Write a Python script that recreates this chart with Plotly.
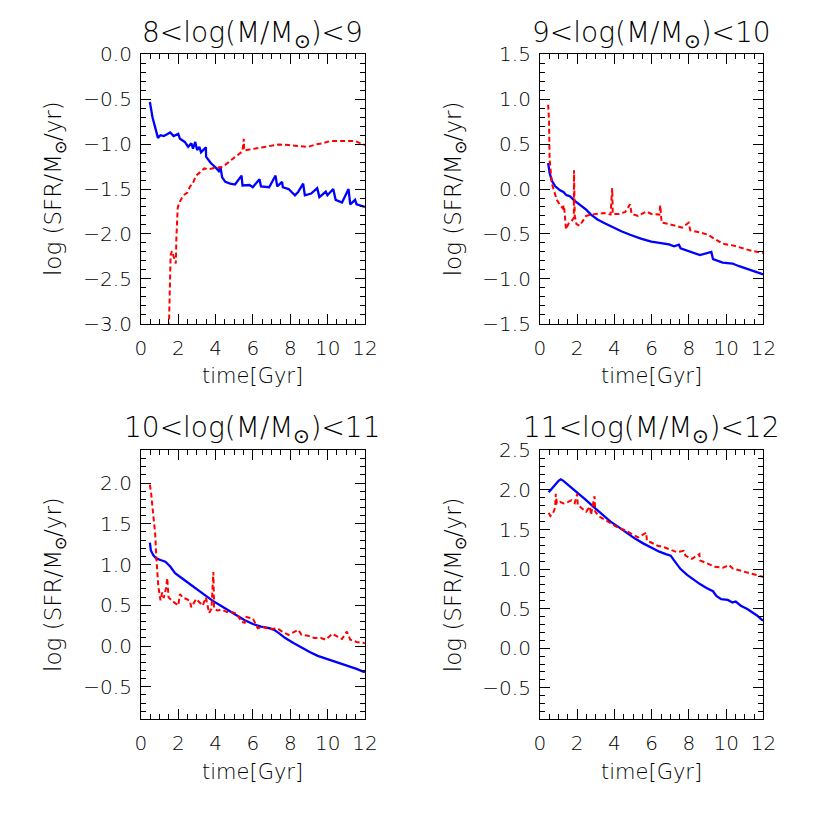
import plotly.graph_objects as go

# ---- panel 1 : 8 < log M < 9 ----
t_blue_1 = [0.48, 0.62, 0.76, 0.91, 1.05, 1.22, 1.40, 1.57, 1.75, 2.00, 2.09, 2.35, 2.53, 2.70, 2.79, 2.91,
            3.01, 3.13, 3.22, 3.48, 3.49, 3.74, 4.00, 4.17, 4.26, 4.35, 4.52, 4.78, 5.04, 5.39, 5.44, 5.82,
            5.99, 6.35, 6.43, 6.87, 7.21, 7.30, 7.56, 7.60, 7.91, 8.25, 8.43, 8.69, 8.78, 9.12, 9.44, 9.56,
            9.90, 9.99, 10.30, 10.43, 10.77, 11.12, 11.21, 11.47, 11.55, 11.90, 12.0]
sfr_blue_1 = [-0.53, -0.70, -0.81, -0.93, -0.90, -0.91, -0.89, -0.87, -0.91, -0.885, -0.94, -0.975, -1.03, -0.99, -1.05, -0.975,
              -1.065, -1.03, -1.09, -1.036, -1.14, -1.21, -1.26, -1.30, -1.25, -1.37, -1.42, -1.44, -1.45, -1.35, -1.46, -1.455,
              -1.48, -1.39, -1.47, -1.48, -1.35, -1.47, -1.42, -1.48, -1.50, -1.57, -1.53, -1.44, -1.57, -1.55, -1.49, -1.59,
              -1.53, -1.57, -1.50, -1.62, -1.65, -1.50, -1.67, -1.62, -1.67, -1.695, -1.70]
t_red_1 = [1.46, 1.52, 1.54, 1.59, 1.66, 1.75, 1.87, 1.90, 1.97, 2.04, 2.27, 2.49, 2.61, 2.79, 2.96, 3.13,
           3.39, 3.65, 4.00, 4.26, 4.52, 4.87, 5.22, 5.44, 5.51, 5.53, 5.82, 6.35, 6.87, 7.39, 7.91, 8.43,
           8.95, 9.38, 9.73, 10.16, 10.69, 11.20, 11.47, 11.90, 12.0]
sfr_red_1 = [-3.40, -2.72, -2.42, -2.24, -2.19, -2.25, -2.33, -2.04, -1.71, -1.66, -1.57, -1.54, -1.48, -1.43, -1.35, -1.32,
             -1.27, -1.28, -1.26, -1.26, -1.23, -1.17, -1.12, -1.08, -0.94, -1.07, -1.06, -1.04, -1.02, -1.003, -1.01, -1.02,
             -1.03, -1.003, -0.99, -0.964, -0.964, -0.957, -0.964, -1.003, -1.01]

# ---- panel 2 : 9 < log M < 10 ----
t_blue_2 = [0.44, 0.52, 0.64, 0.82, 1.08, 1.26, 1.43, 1.61, 1.82, 2.04, 2.30, 2.48, 2.74, 3.09, 3.53, 3.96,
            4.40, 4.84, 5.46, 5.98, 6.50, 6.93, 7.20, 7.46, 7.55, 8.07, 8.59, 9.20, 9.29, 9.81, 10.34, 10.69,
            11.21, 11.65, 11.91, 12.0]
sfr_blue_2 = [0.29, 0.18, 0.093, 0.03, -0.015, -0.033, -0.069, -0.08, -0.123, -0.159, -0.195, -0.23, -0.285, -0.34, -0.386, -0.43,
              -0.473, -0.51, -0.556, -0.585, -0.60, -0.617, -0.638, -0.62, -0.66, -0.70, -0.736, -0.70, -0.78, -0.82, -0.83, -0.86,
              -0.90, -0.927, -0.945, -0.95]
t_red_2 = [0.44, 0.49, 0.52, 0.59, 0.64, 0.77, 0.91, 1.08, 1.22, 1.29, 1.40, 1.52, 1.69, 1.82, 1.83, 1.87,
           1.96, 2.13, 2.30, 2.48, 2.74, 3.09, 3.44, 3.79, 3.88, 3.91, 4.23, 4.58, 4.84, 4.92, 5.27, 5.71,
           5.98, 6.41, 6.46, 6.53, 6.85, 7.28, 7.63, 7.98, 8.07, 8.59, 9.03, 9.38, 9.81, 10.34, 10.86, 11.39,
           11.91, 12.0]
sfr_red_2 = [0.94, 0.76, 0.33, 0.15, 0.06, -0.03, -0.12, -0.18, -0.213, -0.18, -0.45, -0.39, -0.36, -0.32, 0.21, -0.30,
             -0.39, -0.41, -0.357, -0.30, -0.285, -0.275, -0.267, -0.285, 0.01, -0.278, -0.278, -0.256, -0.17, -0.278, -0.30, -0.25,
             -0.278, -0.285, -0.18, -0.375, -0.386, -0.41, -0.43, -0.375, -0.46, -0.484, -0.51, -0.556, -0.61, -0.628, -0.66, -0.69,
             -0.71, -0.715]

# ---- panel 3 : 10 < log M < 11 ----
t_blue_3 = [0.48, 0.53, 0.66, 0.82, 1.05, 1.31, 1.57, 1.83, 2.18, 2.53, 2.96, 3.39, 3.83, 4.26, 4.70, 5.13,
            5.56, 6.00, 6.43, 6.87, 7.13, 7.39, 7.73, 8.17, 8.60, 9.04, 9.47, 9.90, 10.34, 10.77, 11.21, 11.55,
            11.90, 12.0]
sfr_blue_3 = [1.27, 1.175, 1.115, 1.075, 1.055, 1.035, 0.975, 0.895, 0.835, 0.776, 0.71, 0.63, 0.557, 0.497, 0.437, 0.377,
              0.317, 0.27, 0.238, 0.22, 0.198, 0.158, 0.098, 0.038, -0.02, -0.073, -0.12, -0.153, -0.18, -0.213, -0.253, -0.28,
              -0.313, -0.32]
t_red_3 = [0.48, 0.55, 0.65, 0.76, 0.82, 0.88, 0.93, 1.05, 1.14, 1.22, 1.35, 1.41, 1.48, 1.66, 1.83, 2.00,
           2.09, 2.27, 2.44, 2.61, 2.70, 2.84, 2.96, 3.13, 3.31, 3.48, 3.57, 3.65, 3.78, 3.88, 3.92, 4.09,
           4.35, 4.61, 4.87, 5.13, 5.39, 5.56, 5.65, 6.00, 6.26, 6.52, 6.87, 7.30, 7.56, 7.91, 8.43, 8.60,
           8.95, 9.30, 9.64, 9.90, 10.25, 10.51, 10.77, 11.03, 11.21, 11.55, 11.90, 12.0]
sfr_red_3 = [1.98, 1.87, 1.63, 1.39, 1.115, 0.835, 0.735, 0.56, 0.656, 0.59, 0.716, 0.835, 0.597, 0.557, 0.525, 0.497,
             0.636, 0.59, 0.577, 0.557, 0.477, 0.537, 0.577, 0.537, 0.497, 0.597, 0.477, 0.405, 0.457, 0.907, 0.457, 0.437,
             0.445, 0.417, 0.417, 0.397, 0.297, 0.285, 0.357, 0.337, 0.218, 0.238, 0.206, 0.218, 0.178, 0.138, 0.198, 0.138,
             0.126, 0.098, 0.098, 0.078, 0.15, 0.118, 0.086, 0.178, 0.078, 0.05, 0.038, 0.035]

# ---- panel 4 : 11 < log M < 12 ----
t_blue_4 = [0.47, 0.64, 0.82, 1.00, 1.12, 1.26, 1.52, 1.78, 2.04, 2.48, 2.91, 3.35, 3.79, 4.23, 4.66, 5.10,
            5.54, 5.97, 6.41, 6.76, 7.02, 7.20, 7.37, 7.55, 7.90, 8.24, 8.59, 8.94, 9.29, 9.47, 9.73, 10.08,
            10.34, 10.51, 10.78, 11.13, 11.39, 11.65, 11.91, 12.0]
sfr_blue_4 = [1.97, 2.01, 2.065, 2.115, 2.135, 2.115, 2.065, 2.01, 1.96, 1.87, 1.78, 1.685, 1.60, 1.53, 1.46, 1.385,
              1.325, 1.275, 1.22, 1.19, 1.17, 1.11, 1.05, 1.0, 0.926, 0.865, 0.81, 0.76, 0.72, 0.66, 0.62, 0.61,
              0.578, 0.59, 0.537, 0.496, 0.455, 0.414, 0.36, 0.35]
t_red_4 = [0.47, 0.56, 0.70, 0.82, 0.85, 0.91, 1.08, 1.26, 1.52, 1.69, 1.87, 2.00, 2.03, 2.22, 2.48, 2.69,
           2.74, 2.93, 2.97, 3.18, 3.53, 3.88, 4.23, 4.57, 4.92, 5.27, 5.71, 5.74, 5.97, 6.32, 6.67, 7.02,
           7.37, 7.72, 7.81, 8.16, 8.56, 8.59, 8.94, 9.38, 9.81, 10.16, 10.34, 10.86, 11.39, 11.91, 12.0]
sfr_red_4 = [1.71, 1.67, 1.705, 1.78, 1.95, 1.83, 1.85, 1.83, 1.85, 1.87, 1.835, 1.95, 1.81, 1.77, 1.725, 1.79,
             1.685, 1.92, 1.725, 1.664, 1.615, 1.56, 1.52, 1.49, 1.45, 1.40, 1.46, 1.357, 1.336, 1.295, 1.275, 1.246,
             1.213, 1.23, 1.17, 1.13, 1.19, 1.11, 1.07, 1.03, 1.016, 1.05, 1.008, 0.975, 0.947, 0.906, 0.90]

titles = ["8<log(M/M<sub>⊙</sub>)<9", "9<log(M/M<sub>⊙</sub>)<10",
          "10<log(M/M<sub>⊙</sub>)<11", "11<log(M/M<sub>⊙</sub>)<12"]
y_ranges = [[-3.0, 0.0], [-1.5, 1.5], [-0.9, 2.4], [-0.9, 2.5]]

panels = [(t_blue_1, sfr_blue_1, t_red_1, sfr_red_1),
          (t_blue_2, sfr_blue_2, t_red_2, sfr_red_2),
          (t_blue_3, sfr_blue_3, t_red_3, sfr_red_3),
          (t_blue_4, sfr_blue_4, t_red_4, sfr_red_4)]

# the page body keeps its default 8px margin, so an 801px figure fills the 817px window
OFF = 8
W = 801


def px_x(p):
    return (p - OFF) / W


def px_y(p):
    return 1 - (p - OFF) / W


# panel order: top-left, top-right, bottom-left, bottom-right
x_doms = [[px_x(138), px_x(367.5)], [px_x(546.7), px_x(775.7)]] * 2
y_doms = [[px_y(321), px_y(43.5)]] * 2 + [[px_y(729), px_y(451.7)]] * 2
title_y = [23, 23, 430, 430]
xtitle_y = [375, 375, 783, 783]
ytitle_x = [50, 460, 50, 460]

FONT = "DejaVu Sans"
fs = 20

fig = go.Figure()
for i, (tb, sb, tr, sr) in enumerate(panels):
    n = "" if i == 0 else str(i + 1)
    fig.add_trace(go.Scatter(x=tb, y=sb, mode="lines", line=dict(color="#0000ff", width=2.3),
                             xaxis="x" + n, yaxis="y" + n, showlegend=False))
    fig.add_trace(go.Scatter(x=tr, y=sr, mode="lines", line=dict(color="#ff0000", width=2, dash="5px,3px"),
                             xaxis="x" + n, yaxis="y" + n, showlegend=False))

common = dict(showline=True, linecolor="black", linewidth=1, mirror="ticks", ticks="inside",
              ticklen=10, tickwidth=1, tickcolor="black", showgrid=False, zeroline=False,
              tickfont=dict(family=FONT, size=fs, color="black", weight=200))

layout = dict(width=W, height=W, margin=dict(l=0, r=0, t=0, b=0),
              paper_bgcolor="white", plot_bgcolor="white", showlegend=False)
annotations = []
for i in range(4):
    n = "" if i == 0 else str(i + 1)
    layout["xaxis" + n] = dict(common, domain=x_doms[i], range=[0, 12], dtick=2, tick0=0,
                               anchor="y" + n, ticklabelstandoff=6,
                               minor=dict(ticks="inside", ticklen=5, dtick=0.5, tickcolor="black"))
    layout["yaxis" + n] = dict(common, domain=y_doms[i], range=y_ranges[i], dtick=0.5, tick0=0,
                               anchor="x" + n, tickformat=".1f", ticklabelstandoff=4,
                               minor=dict(ticks="inside", ticklen=5, dtick=0.1, tickcolor="black"))
    xc = sum(x_doms[i]) / 2
    ytop = y_doms[i][1]
    ybot = y_doms[i][0]
    annotations.append(dict(text=titles[i], x=xc, y=px_y(title_y[i]), xref="paper", yref="paper",
                            showarrow=False, font=dict(family=FONT, size=28, color="black", weight=200),
                            xanchor="center", yanchor="middle"))
    annotations.append(dict(text="time[Gyr]", x=xc, y=px_y(xtitle_y[i]), xref="paper", yref="paper",
                            showarrow=False, font=dict(family=FONT, size=21, color="black", weight=200),
                            xanchor="center", yanchor="middle"))
    annotations.append(dict(text="log (SFR/M<sub>⊙</sub>/yr)", x=px_x(ytitle_x[i]),
                            y=(ytop + ybot) / 2, xref="paper", yref="paper", textangle=-90,
                            showarrow=False, font=dict(family=FONT, size=23, color="black", weight=200),
                            xanchor="center", yanchor="middle"))
layout["annotations"] = annotations
fig.update_layout(**layout)

fig.write_html("out.html", config={"displayModeBar": False})
